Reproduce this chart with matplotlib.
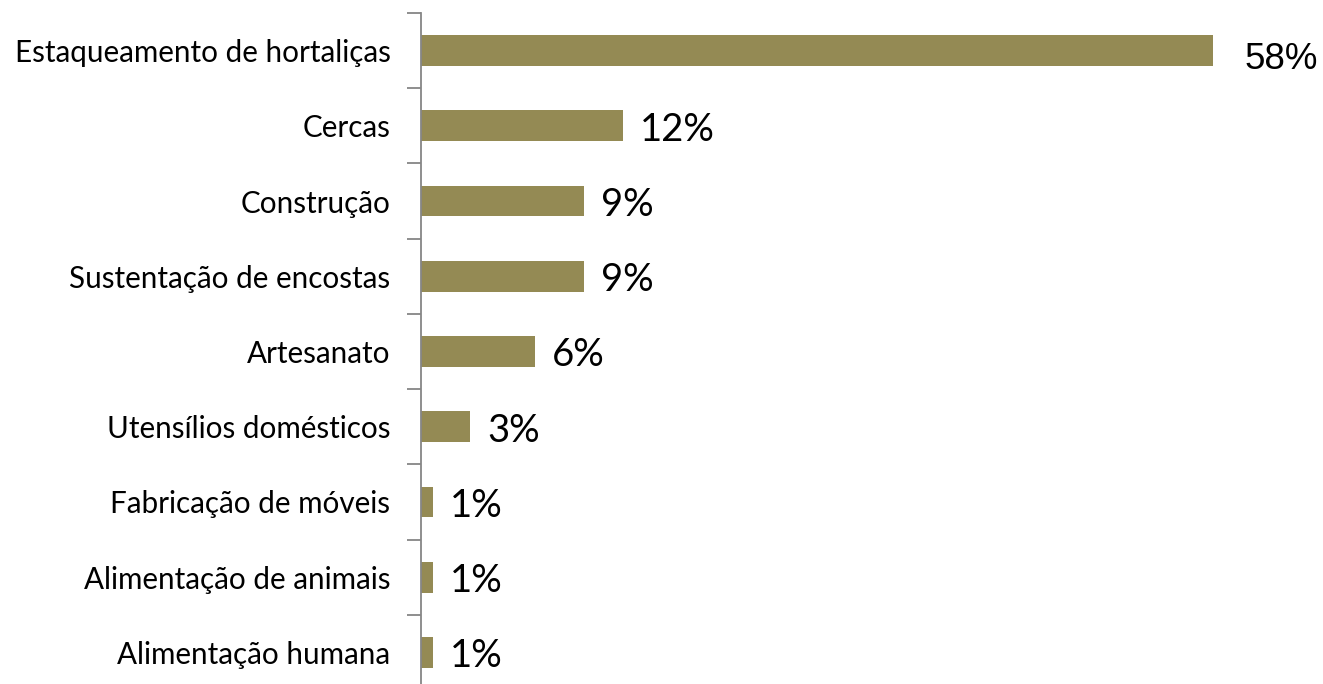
import matplotlib
matplotlib.use('Agg')
import matplotlib.pyplot as plt
import numpy as np

categories = ['Estaqueamento de hortaliças', 'Cercas', 'Construção',
              'Sustentação de encostas', 'Artesanato', 'Utensílios domésticos',
              'Fabricação de móveis', 'Alimentação de animais', 'Alimentação humana']
# bar lengths as drawn (relative units)
values = [66.0, 16.8, 13.6, 13.6, 9.5, 4.1, 1.0, 1.0, 1.0]
labels = ['58%', '12%', '9%', '9%', '6%', '3%', '1%', '1%', '1%']

fig = plt.figure(figsize=(13.23, 6.84), dpi=100)
ax = fig.add_axes([421/1323., -6/684., 1 - 421/1323., 677/684.])

y = np.arange(len(categories))
ax.barh(y, values, height=0.41, color='#948A54', edgecolor='none')
ax.set_xlim(0, 75.2)
ax.set_ylim(len(categories) - 0.5, -0.5)

ax.set_yticks(y)
ax.set_yticklabels(categories, fontsize=21.3, family='Lato')
ax.tick_params(axis='y', which='major', length=0, pad=22)
ax.set_yticks(np.arange(-0.5, len(categories), 1), minor=True)
ax.tick_params(axis='y', which='minor', length=10, color='#868686', width=1.3)
ax.set_xticks([])

for s in ['top', 'right', 'bottom']:
    ax.spines[s].set_visible(False)
ax.spines['left'].set_color('#868686')
ax.spines['left'].set_linewidth(1.3)

for i, (v, lab) in enumerate(zip(values, labels)):
    if i == 0:
        ax.annotate(lab, (v, i), xytext=(32, -9), textcoords='offset pixels',
                    va='center', ha='left', fontsize=26.5, family='Liberation Sans')
    else:
        ax.annotate(lab, (v, i), xytext=(17, -4), textcoords='offset pixels',
                    va='center', ha='left', fontsize=27.5, family='Lato')

fig.savefig('out.png', dpi=100)
